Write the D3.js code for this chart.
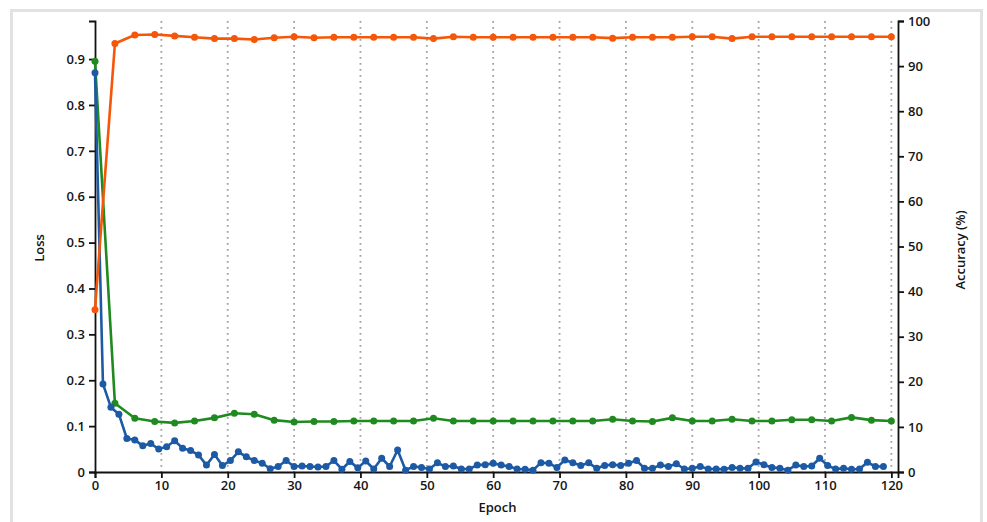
<!DOCTYPE html>
<html>
<head>
<meta charset="utf-8">
<script src="https://cdn.jsdelivr.net/npm/d3@7"></script>
<style>
  html, body { margin: 0; padding: 0; background: #fff; }
  svg { display: block; }
  text { font-family: "Open Sans", "Noto Sans", sans-serif; }
</style>
</head>
<body>
<svg id="chart" width="987" height="522"></svg>
<script>
// ---- data ----
const accEpochs = [0,3,6,9,12,15,18,21,24,27,30,33,36,39,42,45,48,51,54,57,60,63,66,69,72,75,78,81,84,87,90,93,96,99,102,105,108,111,114,117,120];
const valAccuracy = [36,95.0,96.9,97.0,96.7,96.4,96.1,96.1,95.9,96.3,96.5,96.3,96.4,96.4,96.4,96.4,96.4,96.1,96.5,96.4,96.4,96.4,96.4,96.4,96.4,96.4,96.2,96.4,96.4,96.4,96.5,96.5,96.1,96.5,96.5,96.5,96.5,96.5,96.5,96.5,96.5];
const valLoss = [0.895,0.150,0.117,0.110,0.107,0.111,0.118,0.128,0.126,0.113,0.109,0.110,0.110,0.111,0.111,0.111,0.111,0.117,0.111,0.111,0.111,0.111,0.111,0.111,0.111,0.111,0.115,0.111,0.110,0.118,0.111,0.111,0.115,0.111,0.111,0.114,0.114,0.111,0.119,0.113,0.111];
const trainEpochs = d3.range(0, 100).map(k => +(k * 1.2).toFixed(1));
const trainLoss = [0.870,0.192,0.141,0.126,0.073,0.070,0.057,0.062,0.050,0.055,
  0.068,0.052,0.047,0.037,0.015,0.038,0.014,0.025,0.044,0.033,
  0.025,0.019,0.007,0.012,0.025,0.012,0.013,0.012,0.011,0.012,
  0.025,0.006,0.023,0.009,0.024,0.0065,0.030,0.012,0.048,0.004,
  0.012,0.010,0.0065,0.020,0.012,0.013,0.0065,0.0065,0.015,0.016,
  0.019,0.015,0.012,0.0065,0.006,0.004,0.020,0.019,0.010,0.026,
  0.020,0.014,0.020,0.008,0.014,0.016,0.014,0.019,0.025,0.008,
  0.008,0.015,0.012,0.018,0.0065,0.008,0.012,0.0065,0.0065,0.006,
  0.010,0.008,0.008,0.022,0.016,0.010,0.008,0.004,0.015,0.012,
  0.013,0.030,0.014,0.0065,0.008,0.006,0.0065,0.021,0.012,0.012];
const xTicks = d3.range(0, 121, 10);
const lossTicks = [0,0.1,0.2,0.3,0.4,0.5,0.6,0.7,0.8,0.9];
const accTicks = d3.range(0, 101, 10);

// ---- layout ----
const svg = d3.select("#chart");
const plotL = 95, plotR = 898, plotT = 21, plotB = 472;

// frame
svg.append("rect").attr("x", 11.5).attr("y", 10.5).attr("width", 970).attr("height", 530)
  .attr("fill", "none").attr("stroke", "#e2e2e2").attr("stroke-width", 3);

const x = d3.scaleLinear().domain([0, 121]).range([plotL, plotR]);
const yL = d3.scaleLinear().domain([0, 0.983]).range([plotB, plotT]);
const yR = d3.scaleLinear().domain([0, 100]).range([plotB, plotT]);

// grid
svg.append("g").selectAll("line").data(xTicks.filter(d => d > 0)).join("line")
  .attr("x1", d => x(d)).attr("x2", d => x(d))
  .attr("y1", plotT).attr("y2", plotB)
  .attr("stroke", "#a0a0a0").attr("stroke-width", 1.8)
  .attr("stroke-dasharray", "1.8,4.2");

function styleAxis(g) {
  g.selectAll("path.domain").attr("stroke", "#111").attr("stroke-width", 1.8);
  g.selectAll(".tick line").attr("stroke", "#111").attr("stroke-width", 1.8);
  g.selectAll("text").attr("font-size", 13).attr("fill", "#151515").attr("font-weight", 600)
    .style("font-family", "'Open Sans', sans-serif");
}

const gx = svg.append("g").attr("transform", `translate(0,${plotB})`)
  .call(d3.axisBottom(x).tickValues(xTicks).tickFormat(d3.format("d")).tickSize(6).tickSizeOuter(6).tickPadding(3));
styleAxis(gx);

const gl = svg.append("g").attr("transform", `translate(${plotL},0)`)
  .call(d3.axisLeft(yL).tickValues(lossTicks).tickFormat(d => d === 0 ? "0" : d3.format(".1f")(d)).tickSize(6).tickSizeOuter(6).tickPadding(4));
styleAxis(gl);

const gr = svg.append("g").attr("transform", `translate(${plotR},0)`)
  .call(d3.axisRight(yR).tickValues(accTicks).tickFormat(d3.format("d")).tickSize(6).tickSizeOuter(6).tickPadding(4));
styleAxis(gr);

// titles
function title(t, tr) {
  svg.append("text").attr("transform", tr).attr("text-anchor", "middle")
    .attr("font-size", 13).attr("font-weight", 600).attr("fill", "#151515").text(t);
}
title("Epoch", `translate(${(plotL + plotR) / 2 + 1},512)`);
title("Loss", "translate(44,248) rotate(-90)");
title("Accuracy (%)", "translate(965,250) rotate(-90)");

// series
function drawSeries(xs, ys, yScale, color) {
  const pts = xs.map((e, i) => [x(e), yScale(ys[i])]);
  svg.append("path").attr("d", d3.line()(pts)).attr("fill", "none")
    .attr("stroke", color).attr("stroke-width", 2.6).attr("stroke-linejoin", "round");
  svg.append("g").selectAll("circle").data(pts).join("circle")
    .attr("cx", d => d[0]).attr("cy", d => d[1]).attr("r", 3.5).attr("fill", color);
}
drawSeries(accEpochs, valLoss, yL, "#1f8a1f");
drawSeries(trainEpochs, trainLoss, yL, "#1d5aa5");
drawSeries(accEpochs, valAccuracy, yR, "#f55608");
</script>
</body>
</html>
